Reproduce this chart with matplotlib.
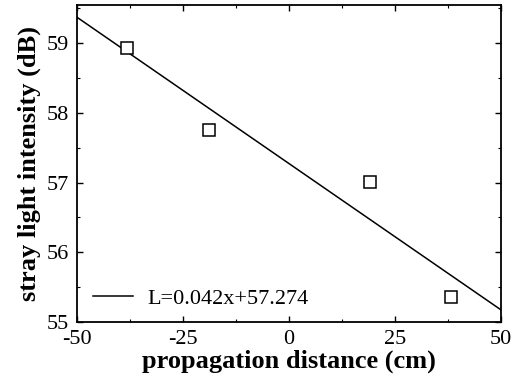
import matplotlib
matplotlib.use("Agg")
import matplotlib.pyplot as plt
import numpy as np
from matplotlib.ticker import MultipleLocator

distance = [-38.3, -18.9, 19.0, 38.2]
intensity = [58.93, 57.76, 57.01, 55.36]
slope = -0.042
intercept = 57.274
fit_label = "L=0.042x+57.274"
xticks = [-50, -25, 0, 25, 50]
yticks = [55, 56, 57, 58, 59]

plt.rcParams['font.family'] = ['Liberation Serif', 'DejaVu Serif']

fig = plt.figure(figsize=(5.16, 3.81), dpi=100)
ax = fig.add_axes([77/516, 1 - 322/381, 424/516, 317/381])

xl = np.array([-50, 50])
ax.plot(xl, slope * xl + intercept, color='black', lw=1.1, label=fit_label)
ax.plot(distance, intensity, linestyle='none', marker='s', markersize=8,
        markerfacecolor='white', markeredgecolor='black', markeredgewidth=1.1)

ax.set_xlim(-50, 50)
ax.set_ylim(55, 59.55)
ax.set_xticks(xticks)
ax.set_yticks(yticks)
ax.xaxis.set_minor_locator(MultipleLocator(12.5))
ax.yaxis.set_minor_locator(MultipleLocator(0.5))
ax.tick_params(which='both', direction='in', top=True, right=True, labelsize=16)
ax.tick_params(axis='x', which='major', pad=6)
ax.tick_params(axis='y', which='major', pad=6)
ax.tick_params(which='major', length=4, width=1)
ax.tick_params(which='minor', length=2, width=0.8)
ax.set_xticklabels(["-50", "-25", "0", "25", "50"])
for s in ax.spines.values():
    s.set_linewidth(1.3)

ax.set_xlabel("propagation distance (cm)", fontsize=19, fontweight='bold', labelpad=0)
ax.set_ylabel("stray light intensity (dB)", fontsize=19, fontweight='bold', labelpad=4)

ax.legend(loc='lower left', frameon=False, fontsize=16, handlelength=1.8,
          handletextpad=0.65, borderaxespad=0.3, bbox_to_anchor=(0.0, -0.008))

fig.savefig("out.png", dpi=100)
